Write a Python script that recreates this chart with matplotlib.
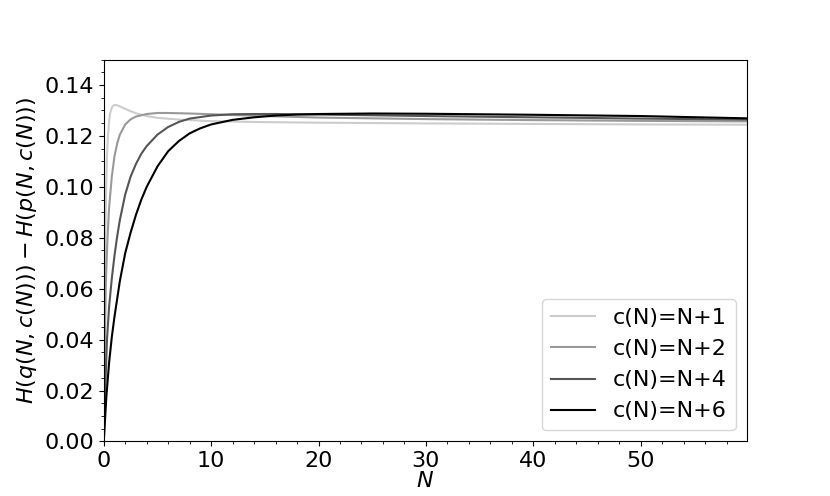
import matplotlib
matplotlib.use("Agg")
import matplotlib.pyplot as plt

# values
n_c1 = [0, 0.05, 0.1, 0.15, 0.2, 0.3, 0.4, 0.5, 0.6, 0.8, 1.0, 1.2, 1.5, 2.0, 2.5, 3.0, 4.0, 5.0, 7.0, 10, 15, 20, 30, 40, 50, 59.9]
h_c1 = [0, 0.035, 0.063, 0.082, 0.095, 0.112, 0.1205, 0.126, 0.129, 0.1315, 0.1322, 0.1321, 0.1316, 0.1306, 0.1297, 0.1289, 0.1278, 0.1271, 0.1264, 0.1258, 0.1254, 0.1252, 0.1249, 0.1247, 0.1245, 0.1244]

n_c2 = [0, 0.1, 0.2, 0.35, 0.5, 0.75, 1.0, 1.25, 1.5, 2.0, 2.5, 3.0, 4.0, 5.0, 6.0, 8.0, 10, 15, 20, 30, 40, 50, 59.9]
h_c2 = [0, 0.040, 0.063, 0.080, 0.092, 0.104, 0.112, 0.117, 0.1205, 0.1245, 0.1265, 0.1276, 0.1286, 0.1290, 0.1290, 0.1288, 0.1285, 0.1278, 0.1272, 0.1266, 0.1262, 0.1259, 0.1257]

n_c4 = [0, 0.15, 0.3, 0.5, 0.75, 1.0, 1.25, 1.5, 2.0, 2.5, 3.0, 3.5, 4.0, 5.0, 6.0, 7.0, 8.0, 10, 12, 14, 16, 20, 30, 40, 50, 59.9]
h_c4 = [0, 0.022, 0.040, 0.053, 0.064, 0.073, 0.0805, 0.087, 0.097, 0.104, 0.109, 0.113, 0.116, 0.1205, 0.1235, 0.1255, 0.1268, 0.1280, 0.1285, 0.1286, 0.1286, 0.1284, 0.1278, 0.1273, 0.1268, 0.1264]

n_c6 = [0, 0.25, 0.5, 0.75, 1.0, 1.5, 2.0, 2.5, 3.0, 3.5, 4.0, 5.0, 6.0, 7.0, 8.0, 9.0, 10, 12, 14, 16, 18, 20, 25, 30, 40, 50, 59.9]
h_c6 = [0, 0.018, 0.031, 0.041, 0.049, 0.063, 0.074, 0.082, 0.089, 0.095, 0.100, 0.108, 0.114, 0.118, 0.121, 0.123, 0.1245, 0.1263, 0.1273, 0.1280, 0.1284, 0.1286, 0.1288, 0.1287, 0.1283, 0.1278, 0.1269]

labels = ["c(N)=N+1", "c(N)=N+2", "c(N)=N+4", "c(N)=N+6"]
colors = ["#cccccc", "#999999", "#555555", "#000000"]

plt.rcParams["font.size"] = 16
fig, ax = plt.subplots(figsize=(8.3, 4.96), dpi=100)

series = [(n_c1, h_c1), (n_c2, h_c2), (n_c4, h_c4), (n_c6, h_c6)]
for (n, h), lab, col in zip(series, labels, colors):
    ax.plot(n, h, color=col, lw=1.5, label=lab)

ax.set_xlim(0, 59.9)
ax.set_ylim(0, 0.15)
ax.minorticks_on()
ax.set_xlabel("$N$", labelpad=0)
ax.set_ylabel("$H(q(N,c(N)))-H(p(N,c(N)))$")
ax.legend(loc="lower right")

fig.savefig("out.png")
